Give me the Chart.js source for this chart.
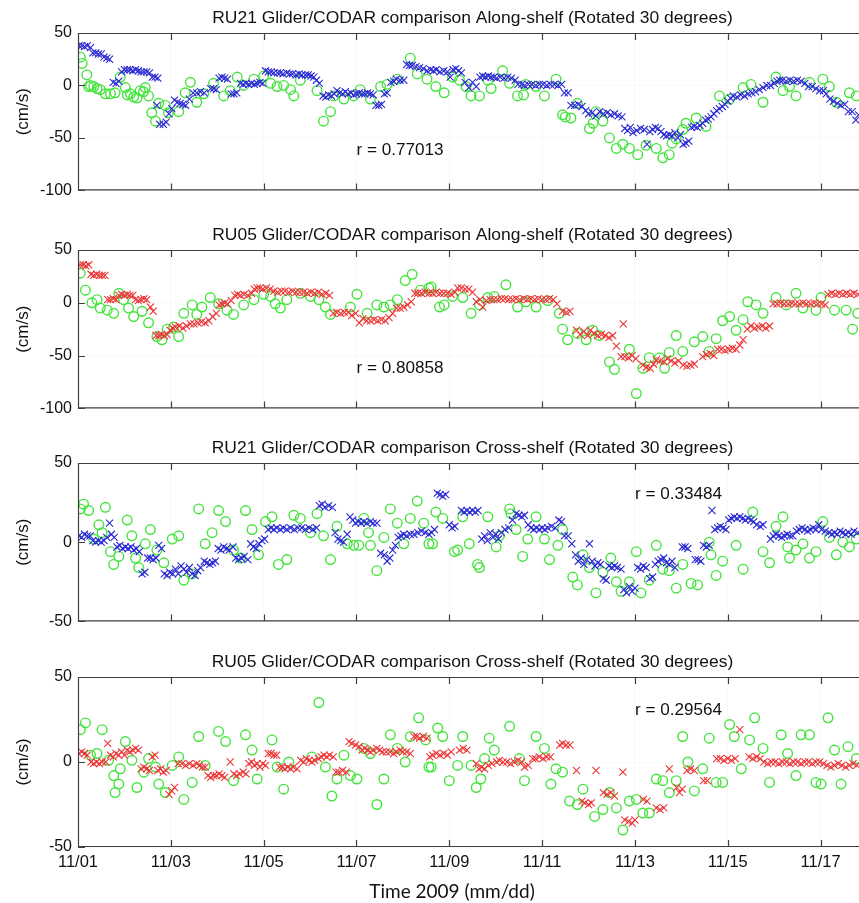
<!DOCTYPE html>
<html>
<head>
<meta charset="utf-8">
<script src="https://cdn.jsdelivr.net/npm/chart.js@4.4.1/dist/chart.umd.min.js"></script>
<style>
html, body { margin: 0; padding: 0; background: #fff; width: 859px; height: 903px; overflow: hidden; }
.panel { position: absolute; left: 0; }
</style>
</head>
<body>
<div class="panel" style="top:0px"><canvas id="p1" width="880" height="206"></canvas></div>
<div class="panel" style="top:217px"><canvas id="p2" width="880" height="207"></canvas></div>
<div class="panel" style="top:430px"><canvas id="p3" width="880" height="207"></canvas></div>
<div class="panel" style="top:644px"><canvas id="p4" width="880" height="259"></canvas></div>
<script>
// days since 2009-11-01 00:00, velocity in cm/s
const tickLabels = ['11/01', '11/03', '11/05', '11/07', '11/09', '11/11', '11/13', '11/15', '11/17'];
const panelTitles = [
  'RU21 Glider/CODAR comparison Along-shelf (Rotated 30 degrees)',
  'RU05 Glider/CODAR comparison Along-shelf (Rotated 30 degrees)',
  'RU21 Glider/CODAR comparison Cross-shelf (Rotated 30 degrees)',
  'RU05 Glider/CODAR comparison Cross-shelf (Rotated 30 degrees)'
];
const rValues = ['r = 0.77013', 'r = 0.80858', 'r = 0.33484', 'r = 0.29564'];
const rPositions = [[6, -62], [6, -62], [12, 30], [12, 30]];

const ru21AlongGlider = [[0.02,38],[0.08,38],[0.14,37],[0.2,38],[0.27,36],[0.32,31],[0.38,31],[0.44,30],[0.5,30],[0.56,27],[0.62,26],[0.68,25],[0.76,3],[0.82,2],[0.88,4],[0.94,13],[1.0,15],[1.06,15],[1.12,15],[1.18,14],[1.24,15],[1.3,14],[1.36,13],[1.42,13],[1.48,13],[1.54,12],[1.6,8],[1.66,8],[1.72,7],[1.7,-19],[1.76,-37],[1.84,-37],[1.9,-35],[1.96,-27],[2.02,-22],[2.08,-14],[2.14,-16],[2.2,-17],[2.26,-18],[2.32,-19],[2.4,-13],[2.48,-7],[2.56,-7],[2.64,-6],[2.72,-7],[2.86,-3],[2.92,-3],[2.98,-4],[3.04,7],[3.1,8],[3.16,7],[3.22,6],[3.3,-8],[3.36,-8],[3.42,-7],[3.5,2],[3.56,1],[3.62,2],[3.68,1],[3.74,2],[3.8,1],[3.86,2],[3.92,3],[3.98,2],[4.04,14],[4.1,13],[4.16,13],[4.22,12],[4.3,12],[4.36,12],[4.42,11],[4.5,12],[4.56,11],[4.62,11],[4.7,10],[4.76,11],[4.82,10],[4.9,10],[4.96,10],[5.02,9],[5.08,8],[5.14,5],[5.2,2],[5.28,-10],[5.34,-11],[5.4,-9],[5.46,-10],[5.52,-8],[5.58,-5],[5.64,-7],[5.7,-8],[5.76,-6],[5.82,-8],[5.88,-7],[5.94,-9],[6.0,-8],[6.06,-7],[6.12,-8],[6.18,-8],[6.24,-7],[6.3,-8],[6.36,-9],[6.42,-19],[6.48,-19],[6.54,-18],[6.6,-8],[6.66,-7],[6.74,3],[6.8,4],[6.86,6],[6.94,5],[7.02,5],[7.08,20],[7.14,19],[7.2,19],[7.28,18],[7.36,17],[7.44,16],[7.52,14],[7.6,15],[7.66,14],[7.72,15],[7.8,13],[7.88,14],[7.96,13],[8.02,8],[8.08,15],[8.14,16],[8.2,14],[8.26,12],[8.34,3],[8.42,-2],[8.5,3],[8.58,-1],[8.66,8],[8.72,9],[8.78,8],[8.84,9],[8.9,8],[8.96,8],[9.02,7],[9.1,8],[9.18,7],[9.26,8],[9.34,7],[9.42,5],[9.48,1],[9.56,1],[9.62,0],[9.7,1],[9.78,1],[9.86,0],[9.94,1],[10.02,1],[10.1,0],[10.18,1],[10.26,1],[10.34,0],[10.42,1],[10.48,-7],[10.56,-7],[10.62,-19],[10.7,-19],[10.78,-18],[10.86,-20],[10.94,-24],[11.0,-27],[11.08,-26],[11.16,-29],[11.24,-25],[11.32,-27],[11.4,-26],[11.48,-28],[11.56,-27],[11.64,-29],[11.72,-30],[11.78,-41],[11.84,-43],[11.9,-40],[11.96,-45],[12.04,-43],[12.12,-41],[12.2,-42],[12.26,-56],[12.32,-44],[12.38,-42],[12.44,-40],[12.5,-41],[12.56,-44],[12.62,-47],[12.68,-48],[12.74,-47],[12.8,-48],[12.86,-45],[12.92,-50],[12.98,-47],[13.04,-56],[13.1,-55],[13.16,-53],[13.22,-40],[13.28,-39],[13.34,-40],[13.4,-38],[13.46,-36],[13.52,-33],[13.58,-32],[13.64,-30],[13.7,-27],[13.76,-24],[13.82,-22],[13.88,-20],[13.94,-18],[14.0,-15],[14.06,-12],[14.12,-10],[14.2,-11],[14.28,-9],[14.36,-10],[14.44,-8],[14.52,-7],[14.6,-6],[14.68,-4],[14.76,-2],[14.84,0],[14.92,0],[15.0,2],[15.06,4],[15.12,5],[15.18,5],[15.26,4],[15.34,5],[15.42,4],[15.5,5],[15.58,4],[15.66,2],[15.74,-1],[15.82,-1],[15.9,-3],[15.98,-5],[16.06,-5],[16.12,-8],[16.2,-13],[16.28,-15],[16.36,-17],[16.44,-19],[16.52,-18],[16.6,-25],[16.68,-25],[16.76,-33],[16.82,-28]];
const ru21AlongCodar = [[0.05,27],[0.09,21],[0.19,10],[0.23,-1],[0.27,0],[0.34,-1],[0.41,-3],[0.48,-4],[0.59,-8],[0.7,-8],[0.8,-7],[0.91,8],[1.02,-2],[1.06,-9],[1.13,-8],[1.2,-11],[1.27,-12],[1.34,-5],[1.41,-6],[1.45,-2],[1.52,-10],[1.59,-26],[1.67,-34],[1.74,-17],[1.88,-19],[1.95,-26],[2.17,-25],[2.31,-7],[2.42,3],[2.56,-16],[2.71,-8],[2.92,2],[3.14,-10],[3.28,-5],[3.43,8],[3.57,0],[3.79,6],[4.0,9],[4.15,2],[4.29,-1],[4.43,0],[4.58,-4],[4.65,-10],[4.79,5],[5.15,-5],[5.29,-34],[5.44,-25],[5.51,-10],[5.73,-13],[5.94,-10],[6.08,-4],[6.3,-13],[6.52,-1],[6.66,1],[6.88,6],[7.16,26],[7.31,11],[7.52,6],[7.71,-1],[7.89,-7],[8.07,8],[8.22,5],[8.36,-1],[8.47,-10],[8.65,-10],[8.83,5],[8.9,-3],[9.15,14],[9.3,2],[9.47,-10],[9.6,-9],[9.65,1],[9.87,-1],[10.05,-10],[10.3,6],[10.44,-28],[10.5,-30],[10.62,-31],[10.76,-17],[11.02,-41],[11.1,-36],[11.16,-25],[11.31,-34],[11.45,-50],[11.6,-60],[11.74,-56],[11.88,-60],[12.06,-66],[12.24,-57],[12.46,-60],[12.6,-69],[12.74,-66],[12.8,-55],[12.89,-51],[13.03,-42],[13.1,-36],[13.32,-31],[13.53,-39],[13.82,-10],[14.04,-13],[14.33,-2],[14.5,1],[14.76,-16],[15.04,8],[15.19,-5],[15.33,-1],[15.47,-10],[15.76,3],[16.05,6],[16.19,-1],[16.34,-16],[16.62,-7],[16.77,-10]];

const ru05AlongGlider = [[0.05,36],[0.11,36],[0.17,35],[0.23,36],[0.28,27],[0.34,26],[0.4,27],[0.46,26],[0.52,26],[0.58,26],[0.64,3],[0.7,3],[0.76,4],[0.82,3],[0.88,7],[0.94,8],[1.0,7],[1.06,8],[1.12,7],[1.18,7],[1.24,3],[1.3,2],[1.36,3],[1.42,4],[1.48,3],[1.56,-4],[1.62,-8],[1.68,-31],[1.74,-31],[1.8,-30],[1.86,-31],[1.92,-30],[1.98,-26],[2.04,-24],[2.1,-23],[2.18,-22],[2.26,-24],[2.34,-22],[2.42,-20],[2.5,-20],[2.58,-19],[2.66,-18],[2.74,-19],[2.82,-17],[2.9,-13],[2.98,-10],[3.04,-2],[3.1,-1],[3.16,0],[3.22,-1],[3.3,2],[3.38,7],[3.44,8],[3.5,7],[3.58,8],[3.66,7],[3.74,9],[3.8,13],[3.86,14],[3.92,14],[3.98,13],[4.06,14],[4.14,13],[4.22,11],[4.3,10],[4.38,11],[4.46,11],[4.54,10],[4.62,11],[4.7,10],[4.78,10],[4.86,10],[4.94,9],[5.02,10],[5.1,9],[5.18,10],[5.26,8],[5.34,9],[5.42,7],[5.5,-10],[5.58,-9],[5.66,-10],[5.74,-9],[5.82,-9],[5.9,-12],[5.98,-10],[6.06,-19],[6.14,-15],[6.22,-17],[6.3,-17],[6.38,-16],[6.46,-17],[6.54,-16],[6.62,-17],[6.7,-14],[6.78,-10],[6.86,-5],[6.94,-5],[7.02,-4],[7.1,-2],[7.18,1],[7.26,9],[7.32,9],[7.4,9],[7.48,10],[7.56,9],[7.64,9],[7.72,10],[7.8,9],[7.88,9],[7.96,9],[8.04,8],[8.12,10],[8.18,14],[8.26,14],[8.34,13],[8.42,13],[8.5,10],[8.58,1],[8.66,3],[8.72,-4],[8.8,2],[8.88,3],[8.96,3],[9.04,3],[9.12,4],[9.2,4],[9.28,3],[9.36,3],[9.44,4],[9.52,3],[9.6,4],[9.68,3],[9.76,4],[9.84,3],[9.92,4],[10.0,3],[10.08,3],[10.16,4],[10.24,3],[10.32,-1],[10.44,-8],[10.52,-9],[10.6,-8],[10.74,-26],[10.82,-30],[10.9,-27],[10.98,-31],[11.04,-26],[11.12,-29],[11.2,-31],[11.28,-30],[11.36,-31],[11.44,-33],[11.52,-31],[11.6,-41],[11.75,-20],[11.7,-51],[11.78,-51],[11.86,-52],[11.94,-50],[12.02,-53],[12.17,-59],[12.25,-61],[12.33,-62],[12.4,-58],[12.46,-54],[12.54,-55],[12.62,-56],[12.7,-53],[12.78,-55],[12.86,-57],[12.94,-55],[13.04,-59],[13.12,-60],[13.2,-59],[13.28,-58],[13.46,-51],[13.54,-49],[13.62,-48],[13.7,-50],[13.78,-44],[13.86,-44],[13.94,-45],[14.02,-44],[14.1,-43],[14.18,-44],[14.26,-40],[14.33,-35],[14.42,-25],[14.5,-22],[14.58,-24],[14.66,-23],[14.74,-22],[14.82,-24],[14.9,-22],[14.98,-1],[15.06,-1],[15.14,0],[15.22,-1],[15.3,-1],[15.38,0],[15.46,-1],[15.54,-1],[15.62,0],[15.7,-1],[15.78,-1],[15.86,0],[15.94,-1],[16.02,-1],[16.1,-2],[16.16,8],[16.24,9],[16.32,8],[16.4,9],[16.48,8],[16.56,9],[16.64,8],[16.72,9],[16.8,8]];
const ru05AlongCodar = [[0.05,28],[0.16,12],[0.3,0],[0.41,3],[0.48,-5],[0.63,-7],[0.77,-10],[0.88,9],[0.98,3],[1.09,-5],[1.2,-13],[1.38,-8],[1.52,-19],[1.7,-32],[1.81,-35],[1.92,-25],[2.06,-23],[2.17,-32],[2.28,-10],[2.46,-2],[2.56,-11],[2.67,-4],[2.85,5],[3.03,-1],[3.21,-7],[3.35,-11],[3.57,-2],[3.79,3],[4.0,8],[4.15,6],[4.25,-1],[4.36,-5],[4.5,3],[4.79,9],[5.01,6],[5.19,3],[5.33,-4],[5.44,-11],[5.87,-4],[6.01,8],[6.23,-10],[6.44,-2],[6.59,-4],[6.73,-2],[6.88,3],[7.05,21],[7.2,27],[7.38,12],[7.56,14],[7.61,15],[7.79,-4],[7.89,-2],[8.07,6],[8.29,5],[8.47,-10],[8.65,-2],[8.83,5],[8.97,6],[9.22,17],[9.47,-4],[9.65,1],[9.87,-4],[10.12,2],[10.37,-10],[10.44,-25],[10.55,-35],[10.76,-29],[10.95,-35],[11.09,-26],[11.23,-31],[11.45,-56],[11.56,-63],[11.88,-44],[12.03,-86],[12.17,-62],[12.31,-52],[12.53,-52],[12.64,-62],[12.74,-47],[12.89,-31],[13.03,-46],[13.28,-37],[13.46,-32],[13.6,-46],[13.75,-34],[13.89,-17],[14.04,-13],[14.18,-26],[14.33,-16],[14.43,1],[14.61,-2],[14.76,-10],[15.04,5],[15.26,-2],[15.47,9],[15.62,-5],[15.9,-7],[16.01,5],[16.3,-7],[16.55,-7],[16.69,-25],[16.8,-10]];

const ru21CrossGlider = [[0.02,4],[0.08,3],[0.14,5],[0.2,4],[0.26,4],[0.32,1],[0.38,0],[0.44,1],[0.5,0],[0.56,1],[0.62,3],[0.68,12],[0.72,5],[0.78,3],[0.84,-3],[0.9,-2],[0.96,-4],[1.02,-3],[1.08,-4],[1.14,-3],[1.2,-5],[1.26,-4],[1.32,-6],[1.38,-20],[1.44,-19],[1.5,-10],[1.56,-10],[1.62,-11],[1.68,-10],[1.74,-2],[1.8,-4],[1.86,-20],[1.92,-21],[1.98,-19],[2.04,-20],[2.1,-17],[2.16,-20],[2.22,-15],[2.28,-17],[2.34,-19],[2.4,-16],[2.46,-20],[2.52,-21],[2.58,-18],[2.64,-16],[2.72,-12],[2.78,-13],[2.84,-14],[2.9,-13],[2.96,-12],[3.02,-4],[3.08,-5],[3.14,-3],[3.2,-4],[3.26,-5],[3.34,-3],[3.4,-10],[3.46,-11],[3.52,-10],[3.58,-9],[3.66,-11],[3.72,-1],[3.78,-3],[3.84,-4],[3.9,-1],[3.96,1],[4.02,2],[4.1,8],[4.16,9],[4.22,8],[4.28,9],[4.36,8],[4.42,9],[4.5,8],[4.58,9],[4.66,8],[4.74,9],[4.82,9],[4.9,8],[4.98,9],[5.06,8],[5.14,9],[5.2,23],[5.26,24],[5.32,22],[5.4,23],[5.48,22],[5.54,6],[5.6,2],[5.66,1],[5.72,0],[5.8,5],[5.86,16],[5.92,14],[5.98,12],[6.04,13],[6.1,12],[6.16,13],[6.22,12],[6.3,13],[6.36,12],[6.44,12],[6.52,-7],[6.6,-8],[6.66,-12],[6.72,-10],[6.78,-5],[6.84,-2],[6.9,3],[6.96,4],[7.02,5],[7.08,4],[7.16,5],[7.24,5],[7.32,6],[7.4,7],[7.48,6],[7.56,5],[7.62,6],[7.68,8],[7.74,31],[7.8,30],[7.86,29],[7.92,30],[8.0,11],[8.06,9],[8.12,10],[8.26,20],[8.32,19],[8.38,20],[8.44,19],[8.5,20],[8.56,19],[8.62,20],[8.7,2],[8.76,4],[8.82,1],[8.88,6],[8.94,3],[9.0,5],[9.06,2],[9.12,6],[9.2,8],[9.28,9],[9.36,14],[9.44,18],[9.5,17],[9.56,16],[9.62,17],[9.7,11],[9.76,9],[9.82,8],[9.88,9],[9.94,8],[10.0,9],[10.06,8],[10.12,9],[10.2,10],[10.28,9],[10.36,14],[10.42,13],[10.48,4],[10.56,4],[10.64,-1],[10.72,-8],[10.78,-12],[10.84,-10],[10.9,-14],[10.96,-11],[11.02,-1],[11.08,-12],[11.14,-15],[11.2,-13],[11.26,-14],[11.32,-23],[11.38,-24],[11.44,-15],[11.5,-16],[11.56,-15],[11.62,-16],[11.7,-17],[11.76,-30],[11.82,-32],[11.88,-28],[11.94,-31],[12.0,-29],[12.06,-16],[12.12,-17],[12.18,-15],[12.24,-16],[12.32,-23],[12.38,-22],[12.44,-14],[12.5,-12],[12.56,-11],[12.62,-10],[12.68,-13],[12.74,-14],[12.8,-12],[12.86,-16],[13.02,-3],[13.08,-3],[13.14,-4],[13.3,-11],[13.36,-11],[13.42,-12],[13.48,-2],[13.54,-3],[13.6,-2],[13.66,20],[13.72,8],[13.78,9],[13.84,10],[13.9,9],[13.96,8],[14.02,14],[14.08,15],[14.14,16],[14.2,15],[14.26,16],[14.32,15],[14.38,14],[14.44,15],[14.5,14],[14.56,13],[14.62,11],[14.7,10],[14.76,11],[14.92,2],[14.98,4],[15.04,5],[15.1,4],[15.16,3],[15.22,4],[15.28,5],[15.34,4],[15.4,4],[15.48,7],[15.54,8],[15.6,9],[15.66,8],[15.72,7],[15.78,8],[15.84,9],[15.9,8],[15.96,11],[16.02,8],[16.1,7],[16.18,6],[16.24,5],[16.3,6],[16.36,5],[16.42,7],[16.48,6],[16.54,5],[16.6,6],[16.66,5],[16.72,7],[16.8,6]];
const ru21CrossCodar = [[0.05,21],[0.12,24],[0.23,20],[0.34,2],[0.45,11],[0.52,6],[0.59,22],[0.7,-6],[0.77,-14],[0.88,-9],[1.06,14],[1.16,4],[1.24,-10],[1.31,-16],[1.45,-1],[1.56,8],[1.7,-5],[1.85,-13],[2.03,2],[2.17,4],[2.28,-24],[2.46,-20],[2.6,21],[2.74,-1],[2.89,6],[3.03,20],[3.18,13],[3.35,-5],[3.5,-10],[3.61,20],[3.75,8],[3.89,-8],[4.04,13],[4.18,16],[4.32,-14],[4.5,-11],[4.65,17],[4.79,15],[5.01,6],[5.15,18],[5.29,4],[5.44,-11],[5.58,10],[5.8,-1],[5.94,-2],[6.05,-2],[6.16,15],[6.26,6],[6.3,-2],[6.44,-18],[6.59,3],[6.73,21],[6.88,12],[7.02,-1],[7.16,15],[7.31,26],[7.45,12],[7.56,-1],[7.64,-1],[7.71,19],[7.86,15],[8.11,-6],[8.18,-5],[8.29,16],[8.43,-1],[8.61,-14],[8.65,-16],[8.83,16],[9.01,-3],[9.08,4],[9.3,21],[9.33,18],[9.44,8],[9.58,-9],[9.69,2],[9.87,16],[10.05,2],[10.16,-11],[10.34,-2],[10.44,8],[10.66,-22],[10.76,-27],[10.88,-8],[11.02,-16],[11.16,-32],[11.31,-19],[11.48,-10],[11.6,-25],[11.7,-31],[11.88,-25],[12.03,-6],[12.13,-32],[12.31,-24],[12.46,-2],[12.6,-17],[12.74,-18],[12.89,-29],[13.03,-14],[13.21,-26],[13.35,-27],[13.6,0],[13.64,-8],[13.75,-21],[13.89,-12],[14.18,-2],[14.33,-17],[14.54,19],[14.76,-6],[14.9,-13],[15.04,10],[15.19,16],[15.29,-3],[15.33,-10],[15.47,-5],[15.62,-1],[15.76,-10],[15.9,-6],[16.05,13],[16.19,3],[16.34,-8],[16.48,0],[16.62,-3],[16.77,2]];

const ru05CrossGlider = [[0.02,5],[0.08,6],[0.14,5],[0.2,4],[0.28,0],[0.34,-1],[0.4,0],[0.46,-1],[0.52,0],[0.6,0],[0.64,11],[0.7,4],[0.76,3],[0.82,5],[0.88,4],[0.94,6],[1.0,4],[1.06,7],[1.12,6],[1.18,7],[1.24,8],[1.3,7],[1.36,-4],[1.42,-3],[1.48,-4],[1.54,-5],[1.6,3],[1.66,4],[1.72,-5],[1.78,-4],[1.84,-6],[1.9,-5],[1.96,-19],[2.02,-17],[2.08,-15],[2.16,-1],[2.24,-1],[2.32,-2],[2.4,-1],[2.48,-2],[2.56,-1],[2.62,-2],[2.68,-3],[2.74,-3],[2.8,-8],[2.86,-9],[2.92,-8],[2.98,-8],[3.04,-7],[3.1,-8],[3.16,-9],[3.28,0],[3.36,-7],[3.42,-8],[3.48,-7],[3.56,-6],[3.62,-7],[3.68,-1],[3.74,0],[3.8,-2],[3.86,-1],[3.92,-3],[3.98,-1],[4.04,-2],[4.1,5],[4.16,5],[4.22,4],[4.28,4],[4.34,-3],[4.4,-3],[4.46,-4],[4.52,-3],[4.58,-4],[4.64,-3],[4.72,-4],[4.8,1],[4.86,0],[4.92,2],[4.98,1],[5.04,0],[5.1,1],[5.18,2],[5.24,3],[5.3,4],[5.36,3],[5.42,4],[5.5,3],[5.56,-6],[5.62,-6],[5.7,-5],[5.78,-6],[5.84,12],[5.9,11],[5.98,10],[6.06,9],[6.12,7],[6.18,8],[6.24,7],[6.3,6],[6.36,7],[6.44,8],[6.5,7],[6.56,6],[6.64,6],[6.72,6],[6.8,5],[6.86,6],[6.94,7],[7.0,6],[7.08,6],[7.16,5],[7.24,15],[7.3,15],[7.36,14],[7.44,15],[7.52,14],[7.58,3],[7.64,4],[7.72,5],[7.8,4],[7.88,5],[7.96,4],[8.04,6],[8.22,7],[8.3,8],[8.38,7],[8.58,-1],[8.64,-4],[8.7,-3],[8.76,-4],[8.84,-2],[8.92,-1],[9.02,0],[9.08,1],[9.16,0],[9.24,0],[9.32,-1],[9.4,0],[9.48,1],[9.56,0],[9.62,-3],[9.7,-2],[9.8,2],[9.86,2],[9.94,3],[10.02,2],[10.1,3],[10.18,3],[10.38,10],[10.44,11],[10.52,10],[10.6,10],[10.74,-5],[10.86,-23],[10.92,-24],[11.0,-25],[11.06,-24],[11.16,-5],[11.32,-18],[11.4,-19],[11.48,-18],[11.56,-20],[11.74,-6],[11.78,-34],[11.86,-35],[11.94,-36],[12.0,-34],[12.18,-22],[12.26,-23],[12.46,-27],[12.54,-28],[12.62,-27],[12.74,-4],[12.9,-15],[12.96,-18],[13.02,-16],[13.12,-5],[13.2,-4],[13.28,-5],[13.48,-11],[13.56,-11],[13.76,2],[13.84,2],[13.92,1],[14.0,2],[14.08,1],[14.16,2],[14.26,19],[14.46,3],[14.54,2],[14.62,3],[14.7,2],[14.78,0],[14.86,-1],[14.94,0],[15.02,0],[15.1,-1],[15.18,0],[15.26,0],[15.34,-1],[15.42,0],[15.5,0],[15.58,-1],[15.66,0],[15.74,0],[15.82,-1],[15.9,0],[15.98,0],[16.06,-1],[16.14,-2],[16.22,-3],[16.3,-2],[16.38,-1],[16.46,-2],[16.54,-3],[16.62,-2],[16.7,-1],[16.78,-2]];
const ru05CrossCodar = [[0.05,19],[0.16,23],[0.27,4],[0.41,5],[0.52,19],[0.66,1],[0.77,-8],[0.8,-18],[0.88,-13],[0.91,-4],[1.02,12],[1.16,1],[1.27,-15],[1.42,-6],[1.52,2],[1.67,-3],[1.74,-13],[1.88,-18],[2.03,-2],[2.17,3],[2.28,-22],[2.46,-12],[2.6,15],[2.74,-2],[3.03,18],[3.18,12],[3.35,-11],[3.61,16],[3.75,7],[3.86,-10],[4.18,13],[4.29,-3],[4.43,-16],[4.54,0],[5.04,3],[5.19,35],[5.33,-3],[5.47,-20],[5.58,-10],[5.73,4],[5.87,-8],[6.01,-10],[6.16,8],[6.3,5],[6.44,-25],[6.59,-10],[6.73,16],[6.88,8],[7.05,0],[7.16,15],[7.34,26],[7.49,13],[7.56,-3],[7.61,-3],[7.75,20],[7.86,15],[8.0,-11],[8.18,-2],[8.29,15],[8.47,-2],[8.58,-15],[8.68,-10],[8.76,2],[8.86,14],[8.97,7],[9.3,21],[9.51,2],[9.62,-11],[9.87,15],[10.05,8],[10.19,-13],[10.3,-4],[10.44,-6],[10.59,-23],[10.76,-25],[10.88,-16],[11.13,-32],[11.31,-28],[11.45,-18],[11.6,-27],[11.74,-40],[11.88,-23],[12.03,-22],[12.17,-30],[12.31,-30],[12.46,-10],[12.6,-11],[12.74,-18],[12.89,-11],[13.03,15],[13.14,0],[13.28,-17],[13.46,-4],[13.6,14],[13.75,-12],[13.89,-12],[14.04,22],[14.14,15],[14.29,-4],[14.47,13],[14.58,26],[14.76,8],[14.9,-12],[15.15,16],[15.29,5],[15.47,-8],[15.58,16],[15.76,16],[15.9,-12],[16.01,-13],[16.16,26],[16.3,7],[16.44,-13],[16.59,9],[16.77,2]];

const GREEN = '#45e43d';
const BLUE = '#2a2ad2';
const RED = '#ec3636';
const ARIAL = '"Liberation Sans", Arial, Helvetica, sans-serif';

function stretchText(ctx, str, x, y, sx, align) {
  ctx.save();
  ctx.translate(x, y);
  ctx.scale(sx, 1);
  ctx.textAlign = align;
  ctx.fillText(str, 0, 0);
  ctx.restore();
}

function makePanel(id, idx, glider, codar, gliderColor, yMin, xAxisH, showX) {
  const decor = {
    id: 'decor' + idx,
    afterDraw(chart) {
      const { ctx, chartArea: a, scales: { x, y } } = chart;
      ctx.save();
      ctx.strokeStyle = '#404040';
      ctx.lineWidth = 1.2;
      ctx.beginPath();
      ctx.moveTo(a.right, a.top + 0.5);
      ctx.lineTo(a.left + 0.5, a.top + 0.5);
      ctx.lineTo(a.left + 0.5, a.bottom - 0.5);
      ctx.lineTo(a.right, a.bottom - 0.5);
      x.ticks.forEach(t => {
        const px = Math.round(x.getPixelForValue(t.value)) + 0.5;
        ctx.moveTo(px, a.top); ctx.lineTo(px, a.top + 7);
        ctx.moveTo(px, a.bottom); ctx.lineTo(px, a.bottom - 7);
      });
      y.ticks.forEach(t => {
        const py = Math.round(y.getPixelForValue(t.value)) + 0.5;
        ctx.moveTo(a.left, py); ctx.lineTo(a.left + 7, py);
      });
      ctx.stroke();

      ctx.fillStyle = '#111';
      ctx.textBaseline = 'middle';
      ctx.font = '16px ' + ARIAL;
      stretchText(ctx, panelTitles[idx], (a.left + a.right) / 2, a.top - 14.5, 1.09, 'center');
      stretchText(ctx, rValues[idx], x.getPixelForValue(rPositions[idx][0]), y.getPixelForValue(rPositions[idx][1]), 1.07, 'left');

      ctx.font = '17px ' + ARIAL;
      ctx.save();
      ctx.translate(23, (a.top + a.bottom) / 2);
      ctx.rotate(-Math.PI / 2);
      ctx.textAlign = 'center';
      ctx.fillText('(cm/s)', 0, 0);
      ctx.restore();

      if (showX) {
        ctx.font = '19px Lato, "Open Sans", sans-serif';
        ctx.textAlign = 'center';
        ctx.fillText('Time 2009 (mm/dd)', 452, a.bottom + 45);
      }
      ctx.restore();
    }
  };

  return new Chart(document.getElementById(id), {
    type: 'scatter',
    data: {
      datasets: [
        {
          label: 'Glider',
          data: glider,
          pointStyle: 'crossRot',
          pointRadius: 5,
          pointHoverRadius: 5,
          pointBorderWidth: 1.1,
          pointBorderColor: gliderColor,
          pointBackgroundColor: 'rgba(0,0,0,0)'
        },
        {
          label: 'CODAR',
          data: codar,
          pointStyle: 'circle',
          pointRadius: 4.8,
          pointHoverRadius: 4.8,
          pointBorderWidth: 1.4,
          pointBorderColor: GREEN,
          pointBackgroundColor: 'rgba(0,0,0,0)'
        }
      ]
    },
    options: {
      responsive: false,
      animation: false,
      events: [],
      layout: { padding: { top: 33, right: 13, left: 0, bottom: 0 } },
      plugins: { legend: { display: false }, tooltip: { enabled: false } },
      scales: {
        x: {
          type: 'linear',
          min: 0,
          max: 17,
          afterFit: s => { s.height = xAxisH; },
          border: { display: false },
          grid: { color: 'rgba(0,0,0,0.025)', drawTicks: false },
          ticks: {
            display: showX,
            stepSize: 2,
            includeBounds: false,
            maxRotation: 0,
            autoSkip: false,
            padding: 6,
            color: '#111',
            font: { family: ARIAL, size: 16.5 },
            callback: v => tickLabels[v / 2] || ''
          }
        },
        y: {
          min: yMin,
          max: 50,
          afterFit: s => { s.width = 78; },
          border: { display: false },
          grid: { color: 'rgba(0,0,0,0.025)', drawTicks: false },
          ticks: {
            stepSize: 50,
            padding: 6,
            color: '#111',
            font: { family: ARIAL, size: 16 }
          }
        }
      }
    },
    plugins: [decor]
  });
}

makePanel('p1', 0, ru21AlongGlider, ru21AlongCodar, BLUE, -100, 4, false);
makePanel('p2', 1, ru05AlongGlider, ru05AlongCodar, RED, -100, 4, false);
makePanel('p3', 2, ru21CrossGlider, ru21CrossCodar, BLUE, -50, 4, false);
makePanel('p4', 3, ru05CrossGlider, ru05CrossCodar, RED, -50, 56, true);
</script>
</body>
</html>
